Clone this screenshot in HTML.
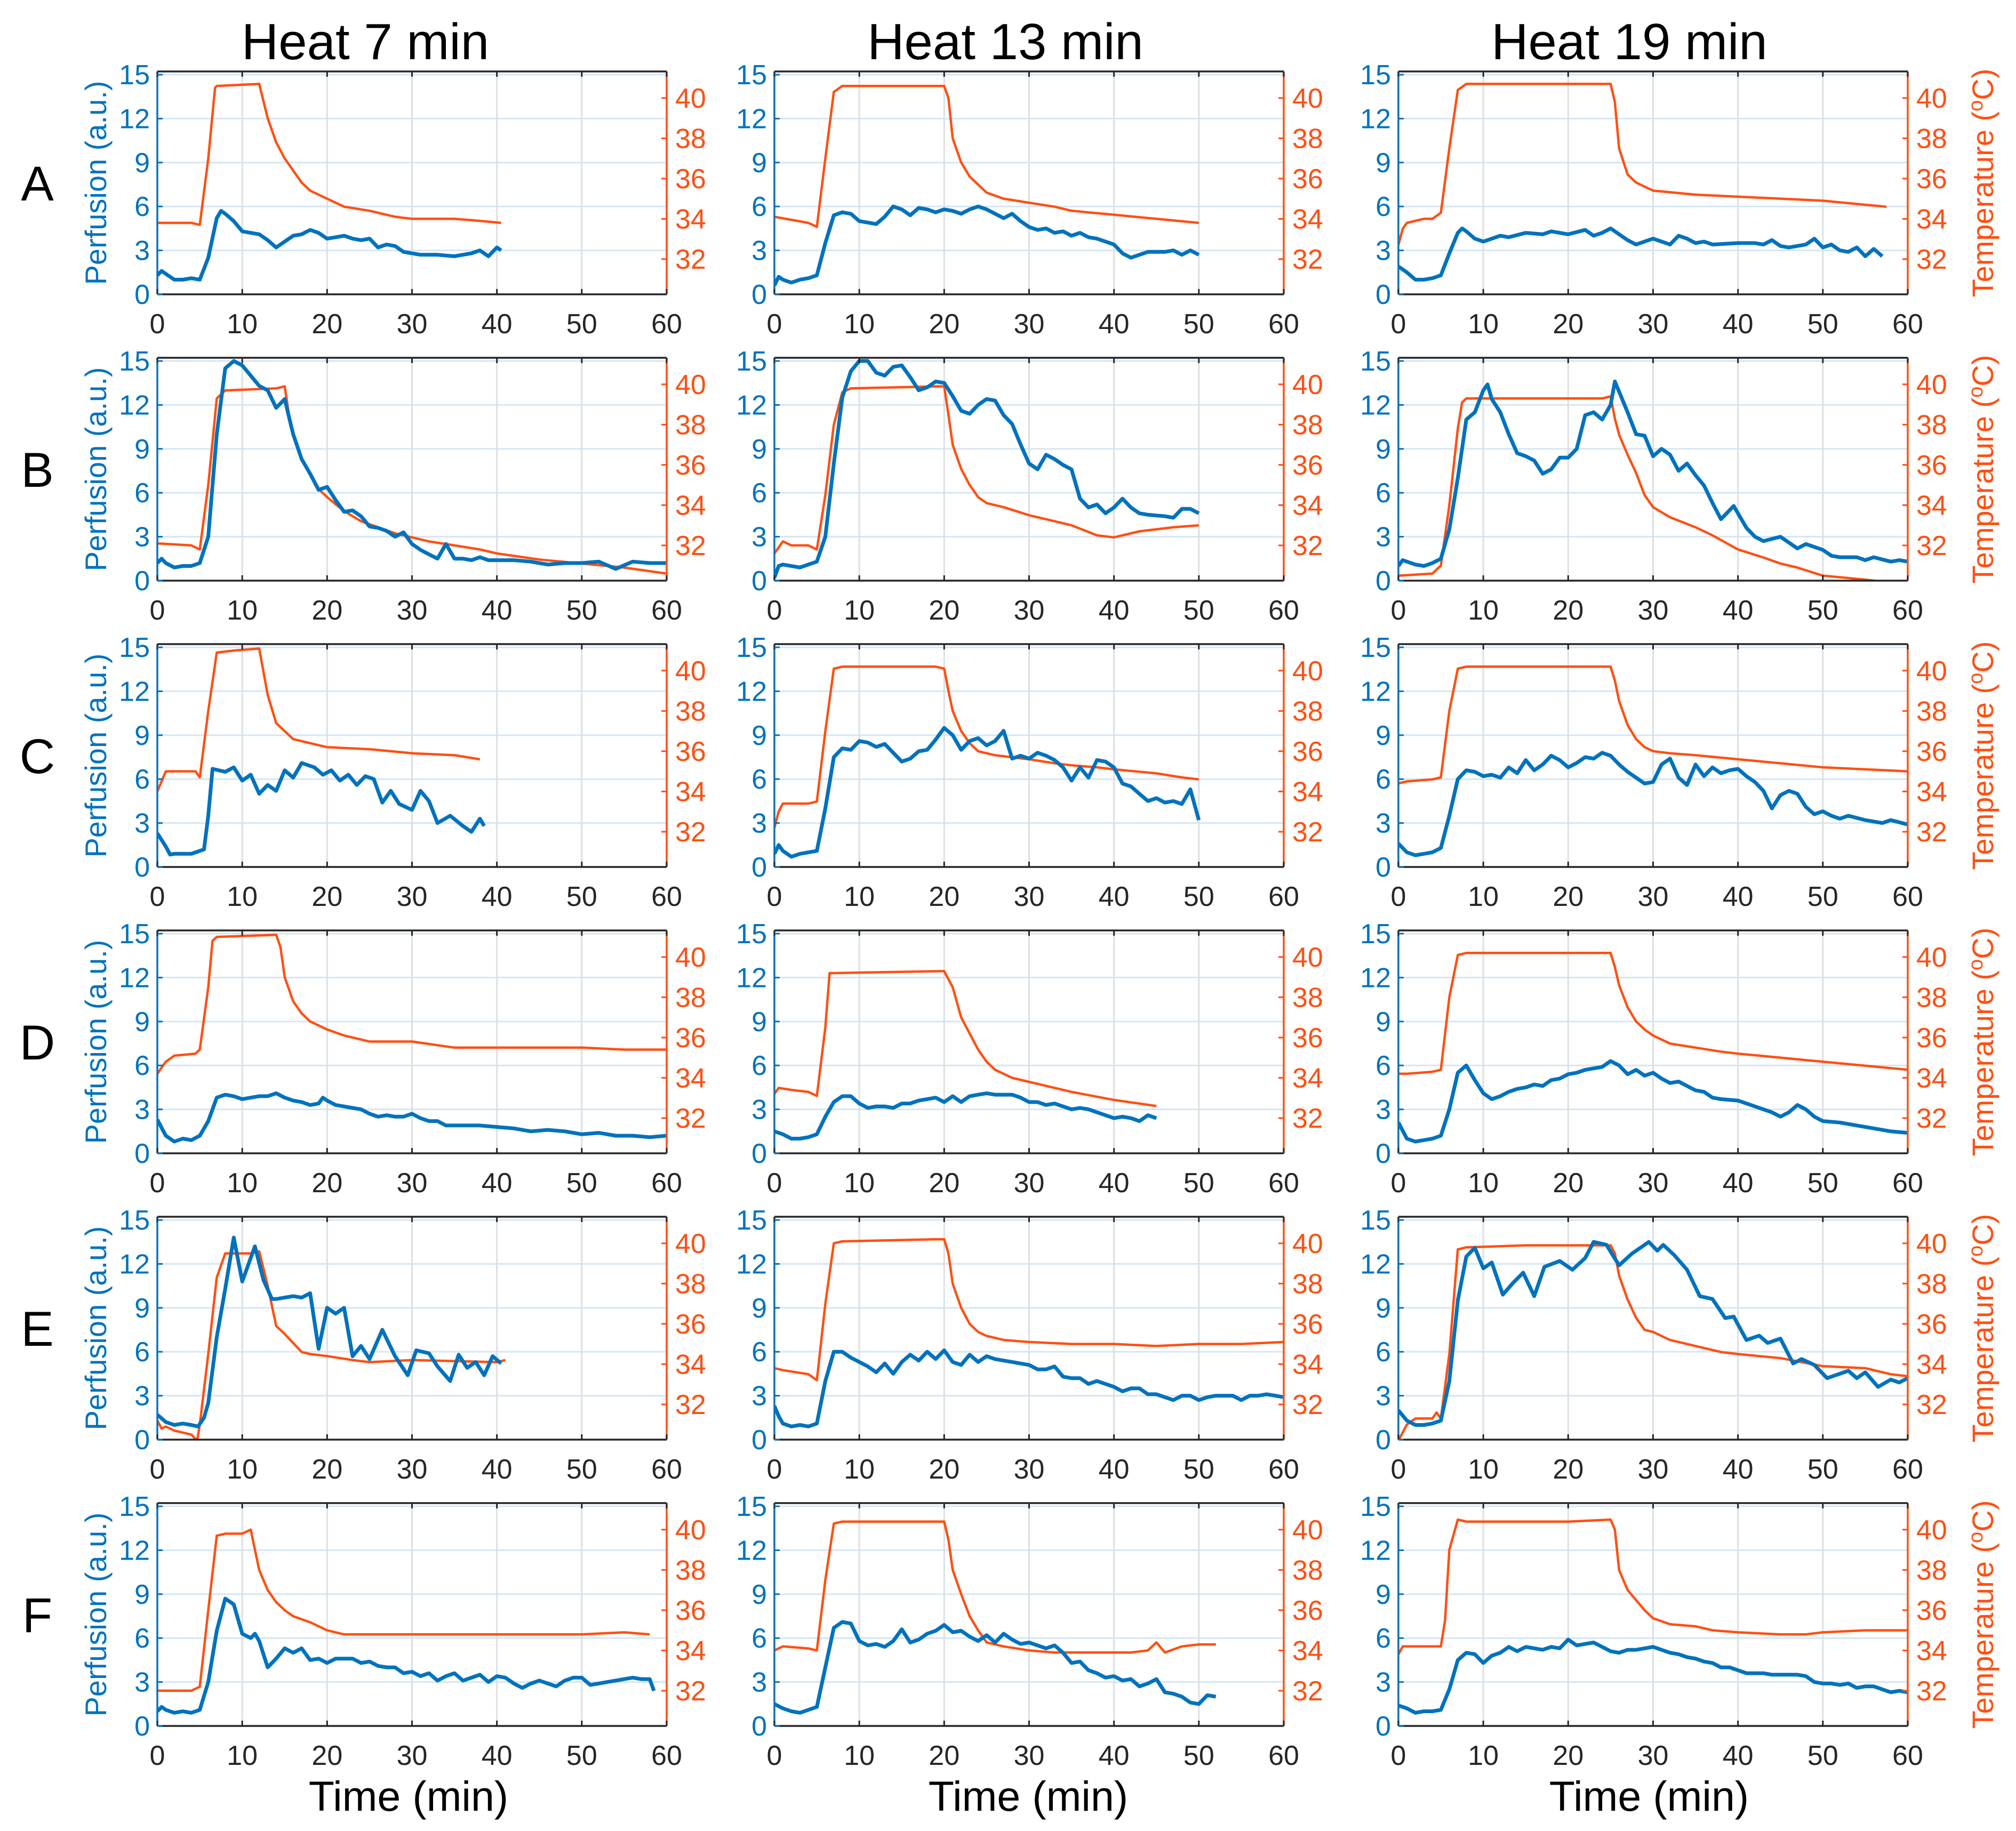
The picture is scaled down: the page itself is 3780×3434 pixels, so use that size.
<!DOCTYPE html>
<html><head><meta charset="utf-8">
<style>
html,body{margin:0;padding:0;background:#fff;}
svg{display:block;font-family:"Liberation Sans",Arial,sans-serif;}
</style></head>
<body>
<svg id="fig" xmlns="http://www.w3.org/2000/svg" width="3780" height="3434" viewBox="0 0 3780 3434">
<rect width="3780" height="3434" fill="#fff"/>
<g id="root"></g>
</svg>
<script>
// ---------- data: [time (min), value] ----------
const xTicks=[0,10,20,30,40,50,60];
const perfTicks=[0,3,6,9,12,15];
const tempTicks=[32,34,36,38,40];
const colTitles=["Heat 7 min","Heat 13 min","Heat 19 min"];
const rowLetters=["A","B","C","D","E","F"];

const A7_perf=[[0,1.3],[0.5,1.6],[1,1.4],[2,1],[3,1],[4,1.1],[5,1],[6,2.5],[7,5.2],[7.5,5.7],[8,5.5],[9,5],[10,4.3],[11,4.2],[12,4.1],[13,3.7],[14,3.2],[15,3.6],[16,4],[17,4.1],[18,4.4],[19,4.2],[20,3.8],[21,3.9],[22,4],[23,3.8],[24,3.7],[25,3.8],[26,3.2],[27,3.4],[28,3.3],[29,2.9],[30,2.8],[31,2.7],[33,2.7],[35,2.6],[37,2.8],[38,3],[39,2.6],[40,3.2],[40.5,3]];
const A7_temp=[[0,33.8],[4,33.8],[5,33.7],[6,37],[6.8,40.5],[7,40.6],[12,40.7],[13,39],[14,37.8],[15,37],[16,36.4],[17,35.8],[18,35.4],[20,35],[22,34.6],[25,34.4],[28,34.1],[30,34],[35,34],[38,33.9],[40.5,33.8]];
const A13_perf=[[0,0.6],[0.5,1.2],[1,1.0],[2,0.8],[3,1],[4,1.1],[5,1.3],[6,3.5],[7,5.4],[8,5.6],[9,5.5],[10,5.0],[11,4.9],[12,4.8],[13,5.3],[14,6],[15,5.8],[16,5.4],[17,5.9],[18,5.8],[19,5.6],[20,5.8],[21,5.7],[22,5.5],[23,5.8],[24,6],[25,5.8],[26,5.5],[27,5.2],[28,5.5],[29,5.0],[30,4.6],[31,4.4],[32,4.5],[33,4.2],[34,4.3],[35,4.0],[36,4.2],[37,3.9],[38,3.8],[40,3.4],[41,2.8],[42,2.5],[43,2.7],[44,2.9],[46,2.9],[47,3.0],[48,2.7],[49,3.0],[50,2.7]];
const A13_temp=[[0,34.1],[4,33.8],[5,33.6],[6,37],[7,40.3],[8,40.6],[20,40.6],[20.5,40],[21,38],[22,36.8],[23,36.1],[24,35.7],[25,35.3],[27,35],[30,34.8],[33,34.6],[35,34.4],[40,34.2],[45,34],[50,33.8]];
const A19_perf=[[0,1.9],[1,1.5],[2,1],[3,1],[4,1.1],[5,1.3],[6,2.8],[7,4.2],[7.5,4.5],[8,4.3],[9,3.8],[10,3.6],[11,3.8],[12,4],[13,3.9],[15,4.2],[17,4.1],[18,4.3],[20,4.1],[22,4.4],[23,4],[24,4.2],[25,4.5],[26,4.1],[27,3.7],[28,3.4],[29,3.6],[30,3.8],[31,3.6],[32,3.4],[33,4],[34,3.8],[35,3.5],[36,3.6],[37,3.4],[40,3.5],[42,3.5],[43,3.4],[44,3.7],[45,3.3],[46,3.2],[48,3.4],[49,3.8],[50,3.2],[51,3.4],[52,3.0],[53,2.9],[54,3.2],[55,2.6],[56,3.1],[57,2.6]];
const A19_temp=[[0,32.7],[0.5,33.5],[1,33.8],[3,34],[4,34],[5,34.3],[6,37.5],[7,40.4],[8,40.7],[25,40.7],[25.5,39.8],[26,37.5],[27,36.2],[28,35.8],[29,35.6],[30,35.4],[35,35.2],[40,35.1],[45,35],[50,34.9],[55,34.7],[57.5,34.6]];

const B7_perf=[[0,1.2],[0.5,1.5],[1,1.2],[2,0.9],[3,1],[4,1],[5,1.2],[6,3],[7,10],[8,14.5],[9,15],[10,14.7],[11,14],[12,13.3],[13,13],[14,11.8],[15,12.4],[16,10],[17,8.3],[18,7.3],[19,6.2],[20,6.4],[21,5.5],[22,4.7],[23,4.8],[24,4.4],[25,3.7],[26,3.6],[27,3.4],[28,3],[29,3.3],[30,2.5],[31,2.1],[32,1.8],[33,1.5],[34,2.5],[35,1.5],[36,1.5],[37,1.4],[38,1.6],[39,1.4],[40,1.4],[42,1.4],[44,1.3],[46,1.1],[48,1.2],[50,1.2],[52,1.3],[54,0.8],[56,1.3],[58,1.2],[60,1.2]];
const B7_temp=[[0,32.1],[4,32],[5,31.8],[6,35],[7,39.3],[8,39.7],[14,39.8],[15,39.9],[15.5,38.5],[16,37.5],[17,36.3],[18,35.5],[19,34.8],[20,34.4],[22,33.7],[24,33.2],[26,32.9],[28,32.6],[30,32.4],[32,32.2],[35,32],[38,31.8],[40,31.6],[45,31.3],[50,31.1],[55,30.9],[60,30.6]];
const B13_perf=[[0,0.2],[0.5,1],[1,1.1],[3,0.9],[5,1.3],[6,3],[7,8],[8,12.5],[9,14.3],[10,15],[11,15],[12,14.2],[13,14],[14,14.6],[15,14.7],[16,13.9],[17,13],[18,13.2],[19,13.6],[20,13.5],[21,12.6],[22,11.6],[23,11.4],[24,12],[25,12.4],[26,12.3],[27,11.3],[28,10.7],[29,9.3],[30,8],[31,7.6],[32,8.6],[33,8.3],[34,7.9],[35,7.6],[36,5.6],[37,5],[38,5.2],[39,4.6],[40,5],[41,5.6],[42,5],[43,4.6],[44,4.5],[46,4.4],[47,4.3],[48,4.9],[49,4.9],[50,4.6]];
const B13_temp=[[0,31.6],[1,32.2],[2,32],[4,32],[5,31.8],[6,34.5],[7,38],[8,39.6],[9,39.8],[19,39.9],[20,39.9],[20.5,38.5],[21,37],[22,35.8],[23,35],[24,34.4],[25,34.1],[27,33.9],[30,33.5],[33,33.2],[35,33],[38,32.5],[40,32.4],[43,32.7],[47,32.9],[50,33]];
const B19_perf=[[0,1],[0.5,1.4],[1,1.3],[2,1.1],[3,1],[4,1.2],[5,1.5],[6,3.5],[7,7],[8,11],[9,11.5],[10,13],[10.5,13.4],[11,12.4],[12,11.5],[13,10],[14,8.7],[15,8.5],[16,8.2],[17,7.3],[18,7.6],[19,8.4],[20,8.4],[21,9],[22,11.3],[23,11.5],[24,11],[25,12],[25.5,13.6],[27,11.5],[28,10],[29,9.9],[30,8.5],[31,9],[32,8.6],[33,7.5],[34,8],[35,7.2],[36,6.5],[37,5.3],[38,4.2],[39.5,5.1],[41,3.6],[42,3],[43,2.7],[45,3],[46,2.6],[47,2.2],[48,2.5],[50,2.1],[51,1.7],[52,1.6],[54,1.6],[55,1.4],[56,1.6],[58,1.3],[59,1.4],[60,1.3]];
const B19_temp=[[0,30.5],[4,30.6],[5,31],[6,34],[7,37.8],[7.5,39.1],[8,39.3],[24,39.3],[25,39.4],[25.5,38.3],[26,37.5],[27,36.5],[28,35.6],[29,34.5],[30,33.9],[32,33.4],[35,32.9],[37,32.5],[40,31.8],[43,31.4],[45,31.1],[47,30.9],[50,30.5],[55,30.3],[57,30.2]];

const C7_perf=[[0,2.3],[1,1.4],[1.5,0.85],[2,0.9],[3,0.9],[4,0.9],[5,1.1],[5.5,1.2],[6,3.5],[6.5,6.7],[8,6.5],[9,6.8],[10,5.9],[11,6.3],[12,5.0],[13,5.6],[14,5.2],[15,6.6],[16,6.1],[17,7.1],[18.5,6.8],[19.5,6.3],[20.5,6.6],[21.5,5.9],[22.5,6.3],[23.5,5.6],[24.5,6.2],[25.5,6.0],[26.5,4.4],[27.5,5.2],[28.5,4.3],[30,3.9],[31,5.2],[32,4.5],[33,3.0],[34.5,3.5],[36,2.8],[37,2.4],[38,3.3],[38.5,2.8]];
const C7_temp=[[0,34],[1,35],[4.5,35],[5,34.7],[6,38],[7,40.9],[9,41],[12,41.1],[13,38.8],[14,37.4],[16,36.6],[18,36.4],[20,36.2],[25,36.1],[30,35.9],[35,35.8],[38,35.6]];
const C13_perf=[[0,0.9],[0.5,1.5],[1,1.1],[2,0.7],[3,0.9],[5,1.1],[6,4],[7,7.5],[8,8.1],[9,8],[10,8.6],[11,8.5],[12,8.2],[13,8.4],[14,7.8],[15,7.2],[16,7.4],[17,7.9],[18,8],[19,8.7],[20,9.5],[21,9],[22,8],[23,8.6],[24,8.8],[25,8.3],[26,8.6],[27,9.3],[28,7.4],[29,7.6],[30,7.4],[31,7.8],[32,7.6],[33,7.3],[34,6.8],[35,5.9],[36,6.8],[37,6.1],[38,7.3],[39,7.2],[40,6.8],[41,5.7],[42,5.5],[43,5],[44,4.5],[45,4.7],[46,4.4],[47,4.5],[48,4.3],[49,5.3],[50,3.2]];
const C13_temp=[[0,32.2],[0.5,33],[1,33.4],[4,33.4],[5,33.5],[6,37],[7,40.1],[8,40.2],[19,40.2],[20,40.1],[20.5,39],[21,38],[22,37],[23,36.4],[24,36],[26,35.8],[28,35.7],[30,35.6],[33,35.4],[35,35.3],[38,35.2],[40,35.1],[45,34.9],[48,34.7],[50,34.6]];
const C19_perf=[[0,1.6],[1,1],[2,0.8],[3,0.9],[4,1],[5,1.3],[6,3.5],[7,6],[8,6.6],[9,6.5],[10,6.2],[11,6.3],[12,6.1],[13,6.8],[14,6.4],[15,7.3],[16,6.6],[17,7],[18,7.6],[19,7.3],[20,6.8],[21,7.1],[22,7.5],[23,7.4],[24,7.8],[25,7.6],[26,7],[27,6.5],[28,6.1],[29,5.7],[30,5.8],[31,7],[32,7.4],[33,6.1],[34,5.6],[35,7],[36,6.2],[37,6.8],[38,6.4],[39,6.6],[40,6.7],[41,6.2],[42,5.8],[43,5.2],[44,4],[45,4.9],[46,5.2],[47,5],[48,4.1],[49,3.6],[50,3.8],[51,3.5],[52,3.3],[53,3.5],[55,3.2],[57,3],[58,3.2],[60,2.9]];
const C19_temp=[[0,34.4],[1,34.5],[4,34.6],[5,34.7],[6,38],[7,40.1],[8,40.2],[25,40.2],[25.5,39.5],[26,38.5],[27,37.3],[28,36.6],[29,36.2],[30,36],[32,35.9],[35,35.8],[40,35.6],[45,35.4],[50,35.2],[55,35.1],[60,35]];

const D7_perf=[[0,2.3],[1,1.2],[2,0.8],[3,1],[4,0.9],[5,1.2],[6,2.2],[7,3.8],[8,4],[9,3.9],[10,3.7],[11,3.8],[12,3.9],[13,3.9],[14,4.1],[15,3.8],[16,3.6],[17,3.5],[18,3.3],[19,3.4],[19.5,3.8],[20,3.6],[21,3.3],[22,3.2],[23,3.1],[24,3],[25,2.7],[26,2.5],[27,2.6],[28,2.5],[29,2.5],[30,2.7],[31,2.4],[32,2.2],[33,2.2],[34,1.9],[35,1.9],[38,1.9],[40,1.8],[42,1.7],[44,1.5],[46,1.6],[48,1.5],[50,1.3],[52,1.4],[54,1.2],[56,1.2],[58,1.1],[60,1.2]];
const D7_temp=[[0,34.2],[1,34.8],[2,35.1],[4.5,35.2],[5,35.4],[6,38.5],[6.5,40.8],[7,41],[14,41.1],[14.5,40.5],[15,39],[16,37.8],[17,37.2],[18,36.8],[19,36.6],[20,36.4],[22,36.1],[25,35.8],[30,35.8],[35,35.5],[40,35.5],[45,35.5],[50,35.5],[55,35.4],[60,35.4]];
const D13_perf=[[0,1.5],[1,1.3],[2,1],[3,1],[4,1.1],[5,1.3],[6,2.5],[7,3.5],[8,3.9],[9,3.9],[10,3.4],[11,3.1],[12,3.2],[13,3.2],[14,3.1],[15,3.4],[16,3.4],[17,3.6],[18,3.7],[19,3.8],[20,3.5],[21,3.9],[22,3.5],[23,3.9],[24,4],[25,4.1],[26,4.0],[27,4],[28,4],[29,3.8],[30,3.5],[31,3.5],[32,3.3],[33,3.4],[34,3.2],[35,3],[36,3.1],[37,3],[38,2.8],[39,2.6],[40,2.4],[41,2.5],[42,2.4],[43,2.2],[44,2.6],[45,2.4]];
const D13_temp=[[0,33.2],[0.5,33.5],[2,33.4],[4,33.3],[5,33.1],[6,36.5],[6.5,39.2],[20,39.3],[21,38.5],[22,37],[23,36.2],[24,35.4],[25,34.8],[26,34.4],[28,34],[30,33.8],[33,33.5],[35,33.3],[40,32.9],[45,32.6]];
const D19_perf=[[0,2.1],[1,1],[2,0.8],[3,0.9],[4,1],[5,1.2],[6,3],[7,5.5],[8,6],[9,5],[10,4.1],[11,3.7],[12,3.9],[13,4.2],[14,4.4],[15,4.5],[16,4.7],[17,4.6],[18,5],[19,5.1],[20,5.4],[21,5.5],[22,5.7],[23,5.8],[24,5.9],[25,6.3],[26,6],[27,5.4],[28,5.7],[29,5.3],[30,5.5],[31,5.1],[32,4.8],[33,4.9],[34,4.6],[35,4.3],[36,4.2],[37,3.8],[38,3.7],[40,3.6],[41,3.4],[42,3.2],[43,3],[44,2.8],[45,2.5],[46,2.8],[47,3.3],[48,3],[49,2.5],[50,2.2],[52,2.1],[54,1.9],[56,1.7],[58,1.5],[60,1.4]];
const D19_temp=[[0,34.2],[1,34.2],[4,34.3],[5,34.4],[6,38],[7,40.1],[8,40.2],[25,40.2],[25.5,39.5],[26,38.6],[27,37.5],[28,36.8],[29,36.4],[30,36.1],[32,35.7],[35,35.5],[38,35.3],[40,35.2],[45,35],[50,34.8],[55,34.6],[60,34.4]];

const E7_perf=[[0,1.7],[1,1.2],[2,1],[3,1.1],[4,1],[4.8,0.9],[5.5,1.5],[6,2.5],[7,7],[8,10.3],[9,13.8],[10,10.8],[11.5,13.2],[12.5,10.9],[13.5,9.6],[14,9.6],[15,9.7],[16,9.8],[17,9.7],[18,10],[19,6.2],[20,9],[21,8.6],[22,9],[23,5.7],[24,6.4],[25,5.5],[26.5,7.5],[28,5.7],[29.5,4.4],[30.5,6.1],[32,5.9],[33,5.0],[34.5,4.0],[35.5,5.8],[36.5,4.9],[37.5,5.3],[38.5,4.4],[39.5,5.7],[40.5,5.2]];
const E7_temp=[[0,31.2],[0.5,30.8],[1,30.9],[2,30.7],[3,30.6],[4,30.5],[4.7,30.2],[5,31],[6,34.5],[7,38.3],[8,39.5],[11,39.5],[12,39.6],[13,37.9],[14,35.9],[15,35.5],[17,34.6],[18,34.5],[20,34.4],[23,34.2],[25,34.1],[30,34.2],[40,34.1],[41,34.2]];
const E13_perf=[[0,2.3],[0.5,1.6],[1,1.1],[2,0.9],[3,1],[4,0.9],[5,1.1],[6,4],[7,6],[8,6],[9,5.6],[10,5.3],[11,5],[12,4.6],[13,5.2],[14,4.5],[15,5.3],[16,5.8],[17,5.4],[18,6],[19,5.5],[20,6.1],[21,5.3],[22,5.1],[23,5.8],[24,5.3],[25,5.7],[26,5.5],[27,5.4],[28,5.3],[29,5.2],[30,5.1],[31,4.8],[32,4.8],[33,5],[34,4.3],[35,4.2],[36,4.2],[37,3.8],[38,4.0],[39,3.8],[40,3.6],[41,3.3],[42,3.5],[43,3.5],[44,3.1],[45,3.1],[46,2.9],[47,2.7],[48,3.0],[49,3],[50,2.7],[51,2.9],[52,3],[53,3],[54,3],[55,2.7],[56,3],[57,3],[58,3.1],[59,3],[60,2.9]];
const E13_temp=[[0,33.8],[1,33.7],[4,33.5],[5,33.2],[6,37],[7,40],[8,40.1],[19,40.2],[20,40.2],[20.5,39.5],[21,38],[22,36.8],[23,36],[24,35.6],[25,35.4],[27,35.2],[30,35.1],[35,35],[40,35],[45,34.9],[50,35],[55,35],[60,35.1]];
const E19_perf=[[0,2],[1,1.3],[2,1],[3,1],[4,1.1],[5,1.3],[6,4],[7,9.5],[8,12.5],[9,13.1],[10,11.7],[11,12.1],[12.3,9.9],[13.5,10.7],[14.7,11.4],[16,9.8],[17.2,11.8],[19,12.2],[20.5,11.6],[22,12.4],[23,13.5],[24.5,13.3],[26,11.9],[27.5,12.7],[29.5,13.5],[30.5,12.9],[31.2,13.3],[32.5,12.6],[34,11.6],[35.5,9.8],[37,9.6],[38.5,8.3],[39.5,8.4],[41,6.8],[42.5,7.1],[43.5,6.6],[45,6.9],[46.5,5.2],[47.5,5.5],[49,5.1],[50.5,4.2],[52,4.5],[53,4.7],[54,4.2],[55,4.6],[56.5,3.6],[58,4.1],[59,3.9],[60,4.2]];
const E19_temp=[[0,30.2],[1,31],[2,31.3],[4,31.3],[4.5,31.6],[5,31.3],[6,34.5],[7,39.7],[8,39.8],[15,39.9],[20,39.9],[25,39.9],[25.5,39.5],[26,38.4],[27,37.2],[28,36.3],[29,35.7],[30,35.6],[32,35.2],[35,34.9],[38,34.6],[40,34.5],[45,34.3],[50,33.9],[55,33.8],[58,33.5],[60,33.4]];

const F7_perf=[[0,1],[0.5,1.3],[1,1.1],[2,0.9],[3,1],[4,0.9],[5,1.1],[6,3],[7,6.5],[8,8.7],[9,8.3],[10,6.3],[11,6],[11.5,6.3],[12,5.8],[13,4],[14,4.6],[15,5.3],[16,5],[17,5.3],[18,4.5],[19,4.6],[20,4.3],[21,4.6],[22,4.6],[23,4.6],[24,4.3],[25,4.4],[26,4.1],[27,4],[28,4],[29,3.6],[30,3.7],[31,3.4],[32,3.6],[33,3.1],[34,3.4],[35,3.6],[36,3.1],[37,3.3],[38,3.5],[39,3],[40,3.4],[41,3.3],[42,2.9],[43,2.6],[44,2.9],[45,3.1],[46,2.9],[47,2.7],[48,3.1],[49,3.3],[50,3.3],[51,2.8],[52,2.9],[53,3],[54,3.1],[55,3.2],[56,3.3],[57,3.2],[58,3.2],[58.5,2.4]];
const F7_temp=[[0,32],[4,32],[5,32.2],[6,36],[7,39.7],[8,39.8],[10,39.8],[11,40],[11.5,39],[12,38],[13,37],[14,36.4],[15,36],[16,35.7],[18,35.4],[20,35],[22,34.8],[25,34.8],[30,34.8],[35,34.8],[40,34.8],[45,34.8],[50,34.8],[55,34.9],[58,34.8]];
const F13_perf=[[0,1.5],[1,1.2],[2,1],[3,0.9],[4,1.1],[5,1.3],[6,4],[7,6.7],[8,7.1],[9,7],[10,5.8],[11,5.5],[12,5.6],[13,5.4],[14,5.8],[15,6.6],[16,5.7],[17,5.9],[18,6.3],[19,6.5],[20,6.9],[21,6.4],[22,6.5],[23,6.1],[24,5.8],[25,6.2],[26,5.7],[27,6.3],[28,5.9],[29,5.6],[30,5.7],[31,5.5],[32,5.3],[33,5.5],[34,5],[35,4.3],[36,4.4],[37,3.8],[38,3.6],[39,3.3],[40,3.4],[41,3.1],[42,3.2],[43,2.7],[44,2.9],[45,3.2],[46,2.3],[47,2.2],[48,2],[49,1.6],[50,1.5],[51,2.1],[52,2]];
const F13_temp=[[0,34],[1,34.2],[4,34.1],[5,34],[6,37.5],[7,40.3],[8,40.4],[20,40.4],[20.5,39.5],[21,38],[22,36.8],[23,35.7],[24,35],[25,34.4],[27,34.2],[30,34],[33,33.9],[35,33.9],[40,33.9],[42,33.9],[44,34],[45,34.4],[46,33.9],[48,34.2],[50,34.3],[52,34.3]];
const F19_perf=[[0,1.4],[1,1.2],[2,0.9],[3,1],[4,1],[5,1.1],[6,2.5],[7,4.5],[8,5],[9,4.9],[10,4.3],[11,4.8],[12,5],[13,5.4],[14,5.1],[15,5.4],[16,5.3],[17,5.2],[18,5.4],[19,5.3],[20,5.9],[21,5.5],[22,5.6],[23,5.7],[24,5.4],[25,5.1],[26,5],[27,5.2],[28,5.2],[29,5.3],[30,5.4],[31,5.2],[32,5],[33,4.9],[34,4.7],[35,4.6],[36,4.4],[37,4.3],[38,4],[39,4],[40,3.8],[41,3.6],[42,3.6],[43,3.6],[44,3.5],[45,3.5],[47,3.5],[48,3.4],[49,3],[50,2.9],[51,2.9],[52,2.8],[53,2.9],[54,2.6],[55,2.7],[56,2.7],[57,2.5],[58,2.3],[59,2.4],[60,2.3]];
const F19_temp=[[0,33.8],[0.5,34.2],[4,34.2],[5,34.2],[5.5,35.5],[6,39],[7,40.5],[8,40.4],[10,40.4],[15,40.4],[20,40.4],[25,40.5],[25.5,40],[26,38],[27,37],[28,36.5],[29,36],[30,35.6],[32,35.3],[35,35.2],[37,35],[40,34.9],[45,34.8],[48,34.8],[50,34.9],[55,35],[60,35]];

const panels=[
 ["A",0,A7_perf,A7_temp],["A",1,A13_perf,A13_temp],["A",2,A19_perf,A19_temp],
 ["B",0,B7_perf,B7_temp],["B",1,B13_perf,B13_temp],["B",2,B19_perf,B19_temp],
 ["C",0,C7_perf,C7_temp],["C",1,C13_perf,C13_temp],["C",2,C19_perf,C19_temp],
 ["D",0,D7_perf,D7_temp],["D",1,D13_perf,D13_temp],["D",2,D19_perf,D19_temp],
 ["E",0,E7_perf,E7_temp],["E",1,E13_perf,E13_temp],["E",2,E19_perf,E19_temp],
 ["F",0,F7_perf,F7_temp],["F",1,F13_perf,F13_temp],["F",2,F19_perf,F19_temp]];

// ---------- layout ----------
const NS="http://www.w3.org/2000/svg";
const BLUE="#0072BD", ORANGE="#FF4F12", DARK="#262626";
const colLeft=[295,1452,2622], W=955, H=418;
const rowBottom=r=>552+537*r;
const PMAX=15.22, TMIN=30.25, TMAX=41.32, XMAX=60;
const root=document.getElementById('root');
function mk(tag,attrs,parent){const e=document.createElementNS(NS,tag);for(const k in attrs)e.setAttribute(k,attrs[k]);(parent||root).appendChild(e);return e;}

colTitles.forEach((t,i)=>{
  const e=mk('text',{x:[685,1885,3055][i],y:111,'font-size':96,'text-anchor':'middle',fill:'#000'});
  e.textContent=t;
  
  
});

panels.forEach(p=>{
  const r=rowLetters.indexOf(p[0]), c=p[1];
  const L=colLeft[c], B=rowBottom(r), T=B-H, R=L+W;
  const xS=t=>L+t/XMAX*W;
  const pS=v=>B-v/PMAX*H;
  const tS=v=>B-(v-TMIN)/(TMAX-TMIN)*H;
  const g=mk('g',{});
  
  
  const cid='clip'+r+c;
  const cp=mk('clipPath',{id:cid},g); mk('rect',{x:L,y:T,width:W,height:H},cp);
  perfTicks.forEach(v=>{const ln=mk('line',{x1:L,x2:R,y1:pS(v),y2:pS(v),stroke:'#d5e6f3','stroke-width':3},g);
    });
  xTicks.forEach(v=>{const ln=mk('line',{x1:xS(v),x2:xS(v),y1:T,y2:B,stroke:'#dcdfe3','stroke-width':3},g);
    });
  const tp=mk('polyline',{points:p[3].map(d=>xS(d[0]).toFixed(1)+','+tS(d[1]).toFixed(1)).join(' '),fill:'none',stroke:ORANGE,'stroke-width':4.5,'stroke-linejoin':'round','clip-path':'url(#'+cid+')'},g);
  
  
  const pp=mk('polyline',{points:p[2].map(d=>xS(d[0]).toFixed(1)+','+pS(d[1]).toFixed(1)).join(' '),fill:'none',stroke:BLUE,'stroke-width':7,'stroke-linejoin':'round','clip-path':'url(#'+cid+')'},g);
  
  
  mk('line',{x1:L,x2:R,y1:T,y2:T,stroke:DARK,'stroke-width':3.5},g);
  mk('line',{x1:L,x2:R,y1:B,y2:B,stroke:DARK,'stroke-width':3.5},g);
  mk('line',{x1:L,x2:L,y1:T,y2:B,stroke:BLUE,'stroke-width':3.5},g);
  mk('line',{x1:R,x2:R,y1:T,y2:B,stroke:ORANGE,'stroke-width':3.5},g);
  xTicks.forEach(v=>{
    mk('line',{x1:xS(v),x2:xS(v),y1:B,y2:B-10,stroke:DARK,'stroke-width':3},g);
    mk('line',{x1:xS(v),x2:xS(v),y1:T,y2:T+10,stroke:DARK,'stroke-width':3},g);
    const e=mk('text',{x:xS(v),y:B+73,'font-size':52,'text-anchor':'middle',fill:DARK},g);
    e.textContent=v;
    
    
  });
  perfTicks.forEach(v=>{
    mk('line',{x1:L,x2:L+10,y1:pS(v),y2:pS(v),stroke:BLUE,'stroke-width':3},g);
    const e=mk('text',{x:L-14,y:pS(v)+18,'font-size':52,'text-anchor':'end',fill:BLUE},g);
    e.textContent=v;
    
    
  });
  tempTicks.forEach(v=>{
    mk('line',{x1:R,x2:R-10,y1:tS(v),y2:tS(v),stroke:ORANGE,'stroke-width':3},g);
    const e=mk('text',{x:R+16,y:tS(v)+18,'font-size':52,'text-anchor':'start',fill:ORANGE},g);
    e.textContent=v;
    
    
  });
  const mid=(T+B)/2;
  if(c===0){
    const e=mk('text',{x:179,y:mid,'font-size':56,'text-anchor':'middle',fill:BLUE,transform:'rotate(-90 179 '+mid+')',dy:20},g);
    e.textContent='Perfusion (a.u.)';
    
    
    const l=mk('text',{x:70,y:mid+33,'font-size':92,'text-anchor':'middle',fill:'#000'},g);
    l.textContent=p[0];
    
    
  }
  if(c===2){
    const e=mk('text',{x:3717,y:mid,'font-size':56,'text-anchor':'middle',fill:ORANGE,transform:'rotate(-90 3717 '+mid+')',dy:20},g);
    e.innerHTML='Temperature (<tspan dy="-20" font-size="38">o</tspan><tspan dy="20">C)</tspan>';
    
    
  }
  if(r===5){
    const e=mk('text',{x:[766,1928,3092][c],y:3396,'font-size':79,'text-anchor':'middle',fill:'#000'},g);
    e.textContent='Time (min)';
    
    
  }
});
</script>
</body></html>
